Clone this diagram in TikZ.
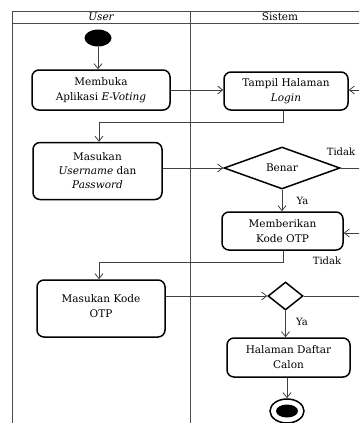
\documentclass[tikz,border=0pt]{standalone}
\usepackage{fontspec}
\setmainfont{DejaVu Serif}
\usetikzlibrary{arrows.meta,shapes.geometric,calc}
\begin{document}
\begin{tikzpicture}[x=1pt,y=-1pt,
  act/.style={draw,line width=1.5pt,rounded corners=7pt,align=center,
    font=\fontsize{10.5}{15}\selectfont,inner sep=0pt},
  dec/.style={diamond,draw,line width=1.5pt,inner sep=0pt,
    font=\fontsize{10.5}{12}\selectfont},
  flow/.style={draw=black!75,line width=0.8pt,-{Straight Barb[length=5pt,width=8pt]}},
  plain/.style={draw=black!75,line width=0.8pt},
  lane/.style={draw=black!70,line width=0.8pt},
  lbl/.style={font=\fontsize{10}{11}\selectfont,inner sep=0pt},
  hdr/.style={font=\fontsize{10.5}{11}\selectfont,inner sep=0pt}]
\useasboundingbox (0,0) rectangle (359,423);
\begin{scope}
\clip (0,0) rectangle (359,423);
% swimlane frame
\draw[lane] (12,11) -- (400,11);
\draw[lane] (12,23) -- (400,23);
\draw[lane] (12,11) -- (12,440);
\draw[lane] (190,11) -- (190,440);
\node[hdr] (hu) at (101,17) {\itshape User};
\node[hdr] (hs) at (280,17) {Sistem};
% nodes
\node[ellipse,fill=black,minimum width=27pt,minimum height=17pt,inner sep=0pt] (start) at (98,38) {};
\node[act,minimum width=138pt,minimum height=40pt] (b1) at (101,90) {Membuka\\Aplikasi \textit{E-Voting}};
\node[act,minimum width=124pt,minimum height=38pt] (b2) at (286,91) {Tampil Halaman\\\textit{Login}};
\node[act,minimum width=129pt,minimum height=57pt,font=\fontsize{10.5}{14}\selectfont] (b3) at (97.5,171) {Masukan\\\textit{Username} dan\\\textit{Password}};
\node[dec,minimum width=116pt,minimum height=42pt] (d1) at (282,168) {Benar};
\node[act,minimum width=121pt,minimum height=38pt] (b4) at (282.5,231) {Memberikan\\Kode OTP};
\node[act,minimum width=128pt,minimum height=57pt,text height=18pt] (b5) at (101,308.5) {Masukan Kode\\OTP};
\node[dec,minimum width=35pt,minimum height=28pt] (d2) at (285.5,296) {};
\node[act,minimum width=123pt,minimum height=39pt] (b6) at (288.5,357.5) {Halaman Daftar\\Calon};
\node[ellipse,draw,line width=1.5pt,minimum width=34pt,minimum height=24pt,inner sep=0pt] (end) at (287,411) {};
\fill (end.center) ellipse [x radius=11, y radius=6.5];
% free ends at the right edge
\coordinate (r1) at (370,90);
\coordinate (r2) at (370,168);
\coordinate (r3) at (370,233);
\coordinate (r4) at (370,296);
% connectors
\draw[flow] (start) -- (start |- b1.north);
\draw[flow] (b1.east |- 0,90) -- (b2.west |- 0,90);
\draw[flow] (r1) -- (b2.east |- r1);
\draw[flow] (b2.south -| 283,0) -- (283,122) -| (b3.north -| 99,0);
\draw[flow] (b3.east |- d1) -- (d1.west);
\draw[plain] (d1.east) -- (r2);
\node[lbl] (t1) at (341,151.5) {Tidak};
\draw[flow] (d1.south) -- (b4.north -| d1.south);
\node[lbl] (y1) at (302.5,201) {Ya};
\draw[flow] (r3) -- (b4.east |- r3);
\draw[flow] (b4.south -| 283,0) -- (283,262) -| (b5.north -| 99,0);
\node[lbl] (t2) at (327,261) {Tidak};
\draw[flow] (b5.east |- d2) -- (d2.west);
\draw[plain] (d2.east) -- (r4);
\draw[flow] (d2.south) -- (b6.north -| d2.south);
\node[lbl] (y2) at (302,321.5) {Ya};
\draw[flow] (b6.south -| end.north) -- (end.north);
\end{scope}
\end{tikzpicture}
\end{document}
